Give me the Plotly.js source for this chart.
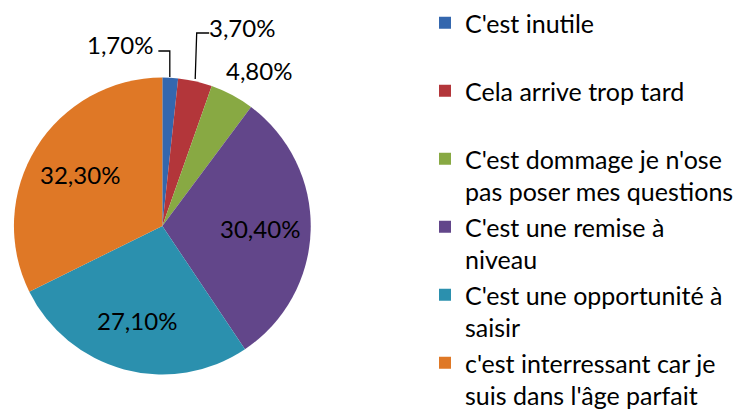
<!DOCTYPE html>
<html>
<head>
<meta charset="utf-8">
<script src="https://cdn.plot.ly/plotly-3.0.1.min.js"></script>
<style>html,body{margin:0;padding:0;background:#fff;}#chart{width:739px;height:413px;}</style>
</head>
<body>
<div id="chart"></div>
<script>
const categories = [
  "C'est inutile",
  "Cela arrive trop tard",
  "C'est dommage je n'ose<br>pas poser mes questions",
  "C'est une remise à<br>niveau",
  "C'est une opportunité à<br>saisir",
  "c'est interressant car je<br>suis dans l'âge parfait"
];
const values = [1.7, 3.7, 4.8, 30.4, 27.1, 32.3];
const colors = ["#3467AE", "#B3363A", "#88A943", "#62468A", "#2B90AE", "#DF7826"];

const W = 739, H = 413;
const px = x => x / W;
const py = y => 1 - y / H;
const fmt = v => v.toFixed(2).replace('.', ',') + '%';
const texts = values.map(fmt);

// legend entries all occupy two lines
const legendLabels = categories.map(c => c.indexOf('<br>') >= 0 ? c : c + '<br> ');

const FONT = 'Lato, "Open Sans", sans-serif';

// pie geometry (pixels)
const CX = 163, CY = 226, R = 149;

const trace = {
  type: 'pie',
  values: values,
  labels: legendLabels,
  text: texts,
  textinfo: 'none',
  sort: false,
  direction: 'clockwise',
  rotation: 0,
  marker: {colors: colors, line: {width: 0}},
  domain: {x: [px(CX - R), px(CX + R)], y: [py(CY + R), py(CY - R)]},
  hoverinfo: 'label+text'
};

// inside labels along each slice bisector
const total = values.reduce((a, b) => a + b, 0);
let cum = 0;
const mids = values.map(v => { const m = (cum + v / 2) / total; cum += v; return m * 2 * Math.PI; });
const insideIdx = [3, 4, 5];
const inside = insideIdx.map(i => ({
  x: px(CX + 0.655 * R * Math.sin(mids[i])),
  y: py(CY - 0.655 * R * Math.cos(mids[i])),
  text: texts[i]
}));

const annotations = [
  {x: px(120), y: py(44), text: texts[0]},
  {x: px(243), y: py(27), text: texts[1]},
  {x: px(260), y: py(70), text: texts[2]}
].concat(inside).map(a => Object.assign({xref: 'paper', yref: 'paper', showarrow: false,
  xanchor: 'center', yanchor: 'middle', font: {family: FONT, size: 24, color: '#000'}}, a));

const shapes = [
  {type: 'path', xref: 'paper', yref: 'paper',
   path: `M${px(159)},${py(51)} L${px(170.5)},${py(51)} L${px(170.5)},${py(77)}`,
   line: {color: '#000', width: 1.3}},
  {type: 'path', xref: 'paper', yref: 'paper',
   path: `M${px(210)},${py(33)} L${px(197.5)},${py(33)} L${px(196)},${py(79)}`,
   line: {color: '#000', width: 1.3}}
];

const layout = {
  width: W, height: H,
  margin: {l: 0, r: 0, t: 0, b: 0},
  paper_bgcolor: '#fff',
  showlegend: true,
  legend: {
    x: px(427), y: 1, xanchor: 'left', yanchor: 'top',
    valign: 'top',
    font: {family: FONT, size: 25, color: '#000'},
    bgcolor: 'rgba(0,0,0,0)', borderwidth: 0
  },
  annotations: annotations,
  shapes: shapes
};

Plotly.newPlot('chart', [trace], layout, {displayModeBar: false, staticPlot: true});
</script>
</body>
</html>
